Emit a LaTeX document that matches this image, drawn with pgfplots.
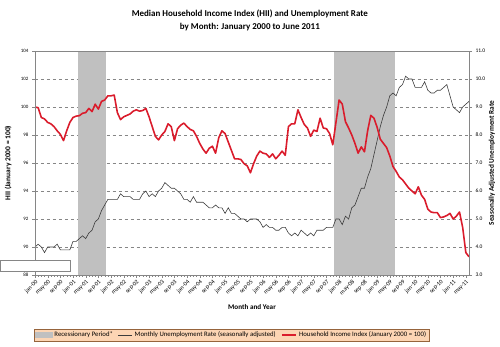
\documentclass[border=0pt]{standalone}
\usepackage{fontspec}
\setmainfont{Carlito}
\usepackage{pgfplots}
\usepackage{pgfplotstable}
\pgfplotsset{compat=1.18}
\definecolor{hiired}{RGB}{218,28,44}
\definecolor{recgray}{RGB}{192,192,192}
\definecolor{legfill}{RGB}{252,213,180}
\definecolor{legdraw}{RGB}{150,100,60}
\definecolor{axgray}{RGB}{134,134,134}
\definecolor{urline}{RGB}{60,60,60}

\pgfplotstableread{
m hii ur
0 100.0 4.0
1 99.95 4.1
2 99.25 4.0
3 99.15 3.8
4 98.9 4.0
5 98.8 4.0
6 98.6 4.0
7 98.3 4.1
8 98.05 3.9
9 97.6 3.9
10 98.3 3.9
11 98.9 3.9
12 99.25 4.2
13 99.35 4.2
14 99.38 4.3
15 99.55 4.4
16 99.6 4.3
17 99.9 4.5
18 99.67 4.6
19 100.2 4.9
20 99.85 5.0
21 100.4 5.3
22 100.5 5.5
23 100.8 5.7
24 100.8 5.7
25 100.85 5.7
26 99.6 5.7
27 99.1 5.9
28 99.3 5.8
29 99.4 5.8
30 99.5 5.8
31 99.7 5.7
32 99.8 5.7
33 99.7 5.7
34 99.75 5.9
35 99.9 6.0
36 99.3 5.8
37 98.6 5.9
38 97.9 5.8
39 97.65 6.0
40 98.0 6.1
41 98.25 6.3
42 98.8 6.2
43 98.6 6.1
44 97.6 6.1
45 98.45 6.0
46 98.7 5.9
47 98.85 5.7
48 98.6 5.7
49 98.4 5.6
50 98.3 5.8
51 97.9 5.6
52 97.4 5.6
53 97.0 5.6
54 96.7 5.5
55 97.05 5.4
56 97.2 5.4
57 96.7 5.5
58 97.8 5.4
59 98.3 5.4
60 98.1 5.2
61 97.5 5.4
62 96.9 5.2
63 96.3 5.2
64 96.3 5.1
65 96.25 5.0
66 95.95 5.0
67 95.8 4.9
68 95.3 5.0
69 95.95 5.0
70 96.5 5.0
71 96.85 4.9
72 96.7 4.7
73 96.65 4.8
74 96.4 4.7
75 96.65 4.7
76 96.3 4.6
77 96.55 4.6
78 96.85 4.7
79 96.55 4.7
80 98.6 4.5
81 98.8 4.4
82 98.8 4.5
83 99.8 4.4
84 99.25 4.6
85 98.75 4.5
86 98.5 4.4
87 97.9 4.5
88 98.35 4.4
89 98.25 4.6
90 99.2 4.6
91 98.5 4.6
92 98.45 4.7
93 98.1 4.7
94 97.3 4.7
95 98.9 5.0
96 100.5 5.0
97 100.2 4.8
98 98.95 5.1
99 98.5 5.0
100 98.0 5.4
101 97.4 5.5
102 96.7 5.8
103 97.15 6.1
104 96.8 6.1
105 98.3 6.5
106 99.4 6.8
107 99.2 7.3
108 98.55 7.8
109 97.7 8.3
110 97.4 8.7
111 97.1 9.0
112 96.5 9.4
113 95.75 9.5
114 95.4 9.4
115 95.0 9.7
116 94.8 9.8
117 94.5 10.1
118 94.2 10.0
119 94.0 10.0
120 93.8 9.7
121 94.3 9.7
122 93.7 9.7
123 93.4 9.9
124 92.7 9.6
125 92.5 9.5
126 92.45 9.5
127 92.45 9.6
128 92.1 9.6
129 92.15 9.7
130 92.25 9.8
131 92.4 9.4
132 92.0 9.0
133 92.2 8.9
134 92.5 8.8
135 91.4 9.0
136 89.6 9.1
137 89.3 9.2
}\data

\pgfplotstableread{
x y
13.5 3
22.5 3
22.5 11
13.5 11
}\recA
\pgfplotstableread{
x y
94.5 3
113.5 3
113.5 11
94.5 11
}\recB

\begin{document}
\begin{tikzpicture}
\path[use as bounding box] (0,0) rectangle (500bp,347bp);
\pgfplotsset{
  common/.style={
    at={(35bp,72bp)}, anchor=south west,
    scale only axis, width=434bp, height=224bp,
    xmin=0, xmax=137,
    axis line style={axgray},
    tick style={axgray},
    tick align=outside,
    major tick length=3bp, minor tick length=1.6bp,
    /pgf/number format/assume math mode=true,
  }
}
% right axis: unemployment rate, grid, recession bars
\begin{axis}[common,
  ymin=3, ymax=11,
  ytick={3,...,11},
  ytick pos=right, yticklabel pos=right,
  yticklabel style={font=\fontsize{5.5}{6}\selectfont, /pgf/number format/fixed, /pgf/number format/fixed zerofill, /pgf/number format/precision=1},
  ymajorgrids,
  grid style={axgray, dashed, line width=0.5pt},
  xtick={0,4,...,136},
  xticklabels={jan-00,may-00,sep-00,jan-01,may-01,sep-01,jan-02,may-02,sep-02,jan-03,may-03,sep-03,jan-04,may-04,sep-04,jan-05,may-05,sep-05,jan-06,may-06,sep-06,jan-07,may-07,sep-07,jan-08,may-08,sep-08,jan-09,may-09,sep-09,jan-10,may-10,sep-10,jan-11,may-11},
  minor x tick num=3,
  xtick pos=bottom,
  x tick label style={rotate=45, anchor=north east, font=\fontsize{6}{6.5}\selectfont, inner sep=0.8pt},
  xlabel={Month and Year},
  xlabel style={at={(axis description cs:0.5,-0.143)}, anchor=center, font=\bfseries\fontsize{7.2}{8}\selectfont},
  ylabel={Seasonally Adjusted Unemployment Rate},
  ylabel style={at={(axis description cs:1.053,0.5)}, anchor=center, font=\bfseries\fontsize{7.3}{8}\selectfont},
  title={Median Household Income Index (HII) and Unemployment Rate\\by Month: January 2000 to June 2011},
  title style={at={(axis description cs:0.495,1.11)}, anchor=center, align=center, font=\bfseries\fontsize{9}{14}\selectfont},
]
\addplot[fill=recgray, draw=none, forget plot] table[x=x, y=y] {\recA} -- cycle;
\addplot[fill=recgray, draw=none, forget plot] table[x=x, y=y] {\recB} -- cycle;
\addplot[urline, line width=0.6pt, forget plot] table[x=m, y=ur] {\data};
\end{axis}
% left axis: HII
\begin{axis}[common,
  axis on top,
  ymin=88, ymax=104,
  ytick={88,90,...,104},
  ytick pos=left,
  xtick=\empty,
  yticklabel style={font=\fontsize{5}{6}\selectfont},
  ylabel={HII (January 2000 = 100)},
  ylabel style={at={(axis description cs:-0.062,0.5)}, anchor=center, font=\bfseries\fontsize{7.5}{8}\selectfont},
  legend columns=3,
  legend style={at={(axis description cs:0.453,-0.268)}, anchor=center, fill=legfill, draw=legdraw, font=\fontsize{6.8}{7.5}\selectfont, inner sep=0.6pt, row sep=0pt, /tikz/every even column/.append style={column sep=3pt}},
  legend image code/.code={\draw[#1] (0cm,0cm) -- (0.5cm,0cm);},
]
\addlegendimage{legend image code/.code={\fill[recgray] (0cm,-0.09cm) rectangle (0.6cm,0.09cm);}}
\addlegendentry{Recessionary Period*}
\addlegendimage{urline, line width=0.6pt}
\addlegendentry{Monthly Unemployment Rate (seasonally adjusted)}
\addlegendimage{hiired, line width=2.2pt}
\addlegendentry{Household Income Index (January 2000 = 100)}
\addplot[hiired, line width=1.6pt, line join=round, forget plot] table[x=m, y=hii] {\data};
\end{axis}
\draw[axgray, fill=white, line width=0.6pt] (0bp,76bp) rectangle (70.7bp,87bp);
\end{tikzpicture}
\end{document}
